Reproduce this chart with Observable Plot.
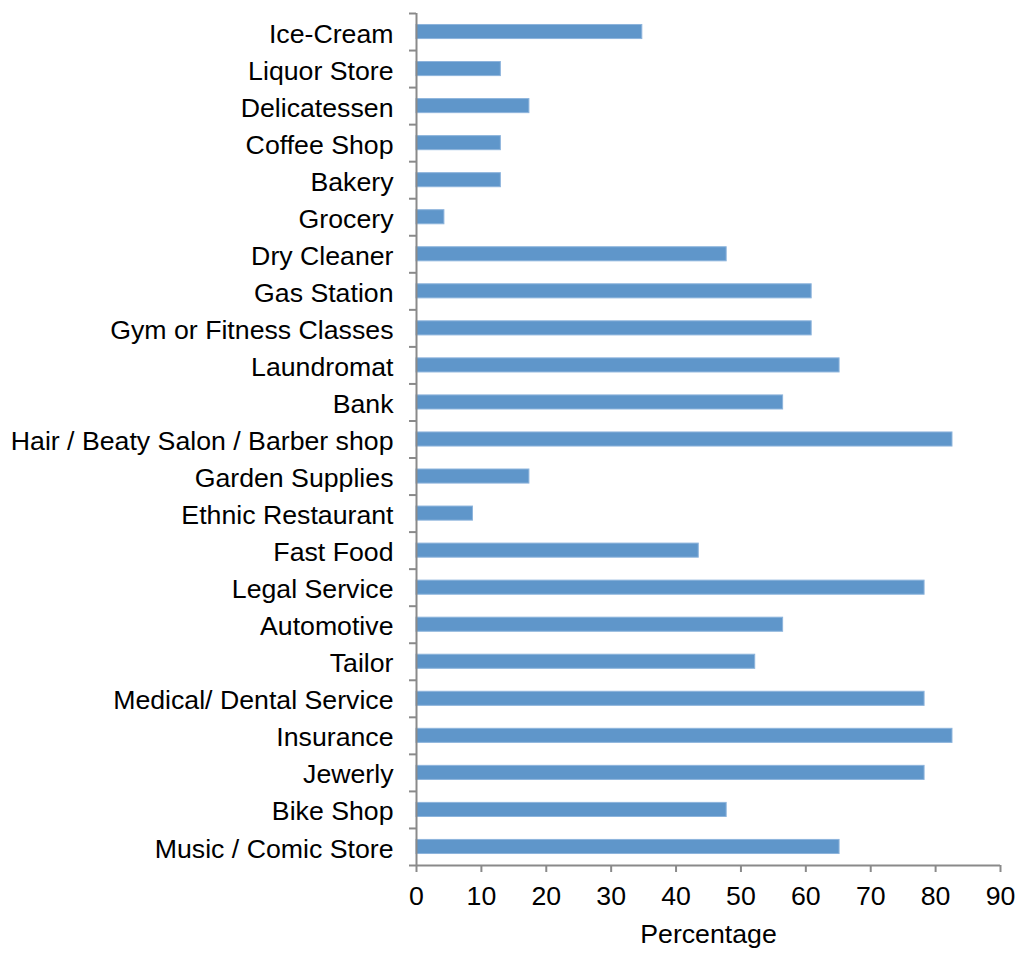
<!DOCTYPE html>
<html>
<head>
<meta charset="utf-8">
<script src="https://cdn.jsdelivr.net/npm/d3@7"></script>
<script src="https://cdn.jsdelivr.net/npm/@observablehq/plot@0.6"></script>
<style>
  html, body { margin: 0; padding: 0; background: #fff; }
  #chart svg { display: block; }
</style>
</head>
<body>
<div id="chart"></div>
<script>
const categories = [
  "Ice-Cream", "Liquor Store", "Delicatessen", "Coffee Shop", "Bakery", "Grocery",
  "Dry Cleaner", "Gas Station", "Gym or Fitness Classes", "Laundromat", "Bank",
  "Hair / Beaty Salon / Barber shop", "Garden Supplies", "Ethnic Restaurant",
  "Fast Food", "Legal Service", "Automotive", "Tailor", "Medical/ Dental Service",
  "Insurance", "Jewerly", "Bike Shop", "Music / Comic Store"
];
const values = [
  34.8, 13.0, 17.4, 13.0, 13.0, 4.3,
  47.8, 60.9, 60.9, 65.2, 56.5,
  82.6, 17.4, 8.7,
  43.5, 78.3, 56.5, 52.2, 78.3,
  82.6, 78.3, 47.8, 65.2
];
const xTicks = [0, 10, 20, 30, 40, 50, 60, 70, 80, 90];
const axisTitle = "Percentage";

const data = categories.map((name, i) => ({name, i, value: values[i]}));
const n = categories.length;
const centers = d3.range(n).map(i => i + 0.5);
const boundaries = d3.range(n + 1);

const font = "'Liberation Sans', Arial, sans-serif";
const gray = "#8a8a8a";
const fs = 26.7;

const chart = Plot.plot({
  width: 1019,
  height: 956,
  marginLeft: 416,
  marginRight: 19,
  marginTop: 13,
  marginBottom: 91,
  style: {fontFamily: font, fontSize: fs + "px", color: "#000", background: "#fff"},
  x: {domain: [0, 90], ticks: xTicks},
  y: {domain: [0, n], reverse: true},
  marks: [
    Plot.rectX(data, {
      x1: 0,
      x2: "value",
      y1: d => d.i + 0.31,
      y2: d => d.i + 0.69,
      fill: "#5f96ca",
      stroke: "#8db4dc",
      strokeWidth: 1
    }),
    Plot.axisX({ticks: xTicks, tickSize: 7, tickPadding: 14, stroke: gray, strokeWidth: 2, fill: "#000", fontSize: fs, label: null}),
    Plot.axisY({ticks: boundaries, tickSize: 7, tickFormat: () => "", stroke: gray, strokeWidth: 2, label: null}),
    Plot.axisY({ticks: centers, tickSize: 0, tickPadding: 23, dy: 2, tickFormat: v => categories[Math.round(v - 0.5)], fill: "#000", fontSize: fs, label: null}),
    Plot.ruleX([0], {stroke: gray, strokeWidth: 2}),
    Plot.ruleY([n], {stroke: gray, strokeWidth: 2}),
    Plot.text([axisTitle], {frameAnchor: "bottom", dy: 77, fontSize: fs, fill: "#000"})
  ]
});
document.getElementById("chart").appendChild(chart);
</script>
</body>
</html>
